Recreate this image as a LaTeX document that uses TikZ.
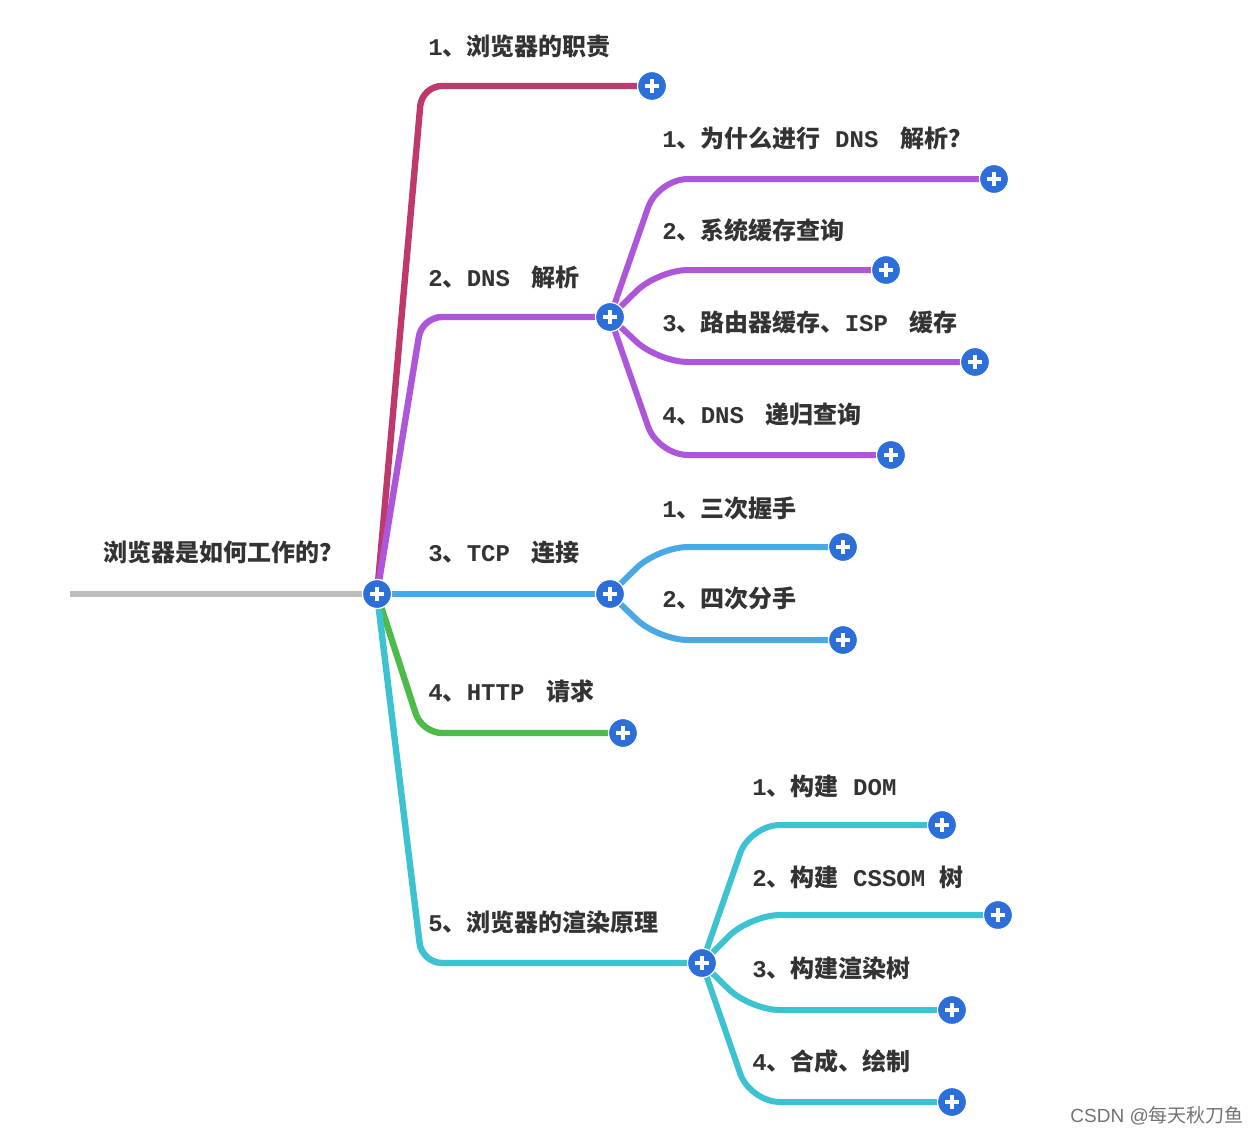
\documentclass[tikz,border=0pt]{standalone}
\usepackage{fontspec}
\newfontfamily\cjk{Noto Sans CJK SC}
\newfontfamily\mylatfont{Liberation Mono}
\newfontfamily\wmfont{Liberation Sans}
\newcommand\mylat[1]{{\mylatfont\bfseries #1}}
\usetikzlibrary{calc}
\definecolor{cCrimson}{HTML}{BE3A6C}
\definecolor{cPurple}{HTML}{AE56DA}
\definecolor{cBlue}{HTML}{4AA8E4}
\definecolor{cGreen}{HTML}{4DBB4A}
\definecolor{cTeal}{HTML}{3DC2D2}
\definecolor{cBtn}{HTML}{2C6FD8}
\definecolor{cText}{HTML}{333333}
\definecolor{cRoot}{HTML}{BDBDBD}
\tikzset{
  addbtn/.style={circle, fill=cBtn, draw=white, line width=0.6pt, minimum size=14.5pt, inner sep=0pt,
    path picture={
      \draw[white, line width=1.7pt] ([xshift=-3.6pt]path picture bounding box.center) -- ([xshift=3.6pt]path picture bounding box.center);
      \draw[white, line width=1.7pt] ([yshift=-3.6pt]path picture bounding box.center) -- ([yshift=3.6pt]path picture bounding box.center);
    }},
  branch/.style={line width=3.2pt, rounded corners=10pt, line cap=round},
  subbranch/.style={line width=3pt, rounded corners=15pt, line cap=round},
  lbl/.style={anchor=west, inner sep=0pt, text=cText, font=\cjk\bfseries\fontsize{12pt}{14pt}\selectfont},
}
\begin{document}
\begin{tikzpicture}[x=0.5pt,y=-0.5pt]
\useasboundingbox (0,0) rectangle (1257,1135);
\fill[white] (0,0) rectangle (1257,1135);

% button nodes
\node[addbtn] (r) at (377,594) {};
\node[addbtn] (b1) at (652,86) {};
\node[addbtn] (b2) at (610,317) {};
\node[addbtn] (b3) at (610,594) {};
\node[addbtn] (b4) at (623,733) {};
\node[addbtn] (b5) at (702,963) {};
\node[addbtn] (d1) at (994,179) {};
\node[addbtn] (d2) at (886,270) {};
\node[addbtn] (d3) at (975,362) {};
\node[addbtn] (d4) at (891,455) {};
\node[addbtn] (t1) at (843,547) {};
\node[addbtn] (t2) at (843,640) {};
\node[addbtn] (s1) at (942,825) {};
\node[addbtn] (s2) at (998,915) {};
\node[addbtn] (s3) at (952,1010) {};
\node[addbtn] (s4) at (952,1102) {};

% connectors
\coordinate (rs) at (70,594);
\draw[cRoot, line width=2.6pt] (rs) -- (r);
\draw[branch, cCrimson] (r) -- ($(r|-b1)+(45,0)$) -- (b1);
\draw[branch, cPurple] (r) -- ($(r|-b2)+(45,0)$) -- (b2);
\draw[branch, cBlue] (r) -- (b3);
\draw[branch, cGreen] (r) -- ($(r|-b4)+(45,0)$) -- (b4);
\draw[branch, cTeal] (r) -- ($(r|-b5)+(45,0)$) -- (b5);
\draw[subbranch, cPurple] (b2) -- ($(b2|-d1)+(48,0)$) -- (d1);
\draw[subbranch, cPurple] (b2) -- ($(b2|-d2)+(48,0)$) -- (d2);
\draw[subbranch, cPurple] (b2) -- ($(b2|-d3)+(48,0)$) -- (d3);
\draw[subbranch, cPurple] (b2) -- ($(b2|-d4)+(48,0)$) -- (d4);
\draw[subbranch, cBlue] (b3) -- ($(b3|-t1)+(48,0)$) -- (t1);
\draw[subbranch, cBlue] (b3) -- ($(b3|-t2)+(48,0)$) -- (t2);
\draw[subbranch, cTeal] (b5) -- ($(b5|-s1)+(48,0)$) -- (s1);
\draw[subbranch, cTeal] (b5) -- ($(b5|-s2)+(48,0)$) -- (s2);
\draw[subbranch, cTeal] (b5) -- ($(b5|-s3)+(48,0)$) -- (s3);
\draw[subbranch, cTeal] (b5) -- ($(b5|-s4)+(48,0)$) -- (s4);

% redraw buttons on top
\foreach \n in {r,b1,b2,b3,b4,b5,d1,d2,d3,d4,t1,t2,s1,s2,s3,s4}{
  \node[addbtn] at (\n) {};
}

% labels
\node[lbl] (lr) at (103,552) {浏览器是如何工作的？};
\node[lbl] (l1) at (428,46) {\mylat{1}、浏览器的职责};
\node[lbl] (l2) at (428,277) {\mylat{2}、\mylat{DNS}\hspace{0.9em}解析};
\node[lbl] (l3) at (428,553) {\mylat{3}、\mylat{TCP}\hspace{0.9em}连接};
\node[lbl] (l4) at (428,691) {\mylat{4}、\mylat{HTTP}\hspace{0.9em}请求};
\node[lbl] (l5) at (428,922) {\mylat{5}、浏览器的渲染原理};
\node[lbl] (ld1) at (662,138) {\mylat{1}、为什么进行\hspace{0.6em}\mylat{DNS}\hspace{0.9em}解析？};
\node[lbl] (ld2) at (662,230) {\mylat{2}、系统缓存查询};
\node[lbl] (ld3) at (662,322) {\mylat{3}、路由器缓存、\mylat{ISP}\hspace{0.9em}缓存};
\node[lbl] (ld4) at (662,414) {\mylat{4}、\mylat{DNS}\hspace{0.9em}递归查询};
\node[lbl] (lt1) at (662,508) {\mylat{1}、三次握手};
\node[lbl] (lt2) at (662,598) {\mylat{2}、四次分手};
\node[lbl] (ls1) at (752,786) {\mylat{1}、构建\hspace{0.6em}\mylat{DOM}};
\node[lbl] (ls2) at (752,877) {\mylat{2}、构建\hspace{0.6em}\mylat{CSSOM}\hspace{0.6em}树};
\node[lbl] (ls3) at (752,968) {\mylat{3}、构建渲染树};
\node[lbl] (ls4) at (752,1061) {\mylat{4}、合成、绘制};

% watermark
\node[anchor=west, inner sep=0pt, text=black!55, font=\wmfont\fontsize{9.5pt}{11pt}\selectfont] (wm) at (1070,1116) {CSDN @{\cjk 每天秋刀鱼}};
\end{tikzpicture}
\end{document}
